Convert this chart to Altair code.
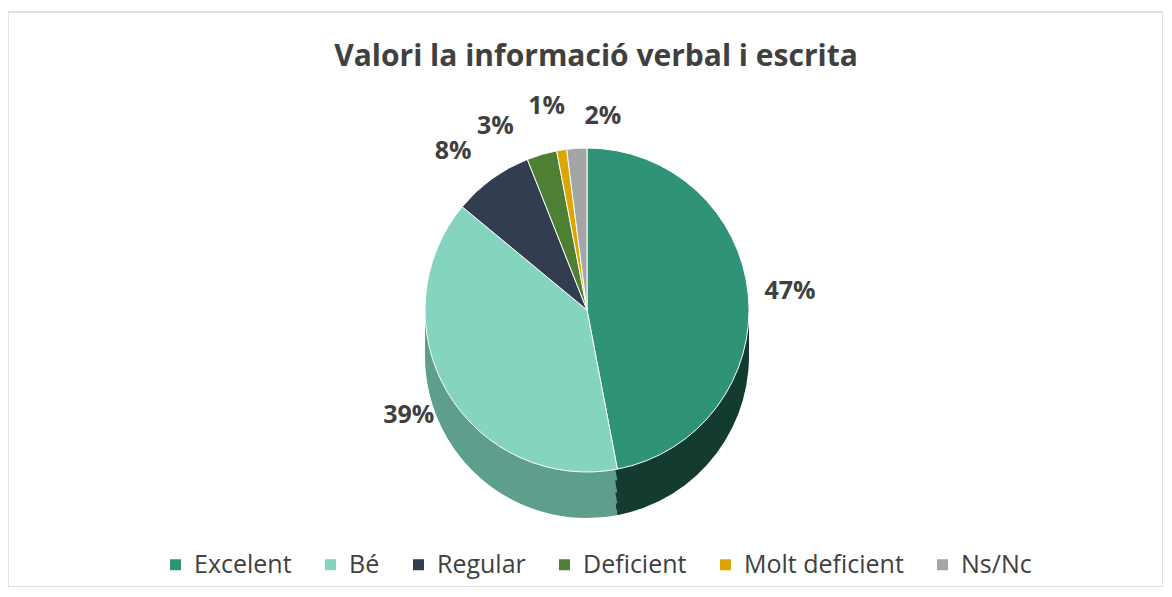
import altair as alt
import pandas as pd

categories = ["Excelent", "Bé", "Regular", "Deficient", "Molt deficient", "Ns/Nc"]
values = [47, 39, 8, 3, 1, 2]
top_colors = ["#2E9377", "#84D4BF", "#323D4F", "#4E7F33", "#DBA600", "#A5A5A5"]
side_colors = ["#143B30", "#5E9E8D", "#1E2530", "#2F4C1F", "#8A6900", "#6E6E6E"]
title_text = "Valori la informació verbal i escrita"

df = pd.DataFrame({
    "cat": categories,
    "value": values,
    "idx": list(range(len(categories))),
    "side": side_colors,
})

W, H = 1155, 575
CX, CY = 579, 298
R = 162
DEPTH = 46
FONT = "Open Sans"

base = alt.Chart(df)

layers = []
# side (depth) of the pie
for d in [DEPTH, DEPTH * 3 // 4, DEPTH // 2, DEPTH // 4]:
    layers.append(
        base.mark_arc(outerRadius=R).encode(
            theta=alt.Theta("value:Q", stack=True),
            order=alt.Order("idx:Q"),
            color=alt.Color("side:N", scale=None, legend=None),
            x=alt.value(CX),
            y=alt.value(CY + d),
        )
    )

# top face
layers.append(
    base.mark_arc(outerRadius=R, stroke="#ffffff", strokeWidth=1).encode(
        theta=alt.Theta("value:Q", stack=True),
        order=alt.Order("idx:Q"),
        color=alt.Color(
            "cat:N",
            scale=alt.Scale(domain=categories, range=top_colors),
            legend=alt.Legend(
                title=None,
                orient="none",
                direction="horizontal",
                legendX=155,
                legendY=540,
                symbolType="square",
                symbolSize=121,
                symbolStrokeWidth=0,
                labelFont=FONT,
                labelFontSize=25,
                labelColor="#404040",
                labelOffset=6,
                columnPadding=26,
                labelLimit=400,
            ),
        ),
        x=alt.value(CX),
        y=alt.value(CY),
    )
)

def label_layer(cats, radius, dx=0, dy=0):
    return (
        base.transform_window(cum="sum(value)", sort=[alt.SortField("idx")])
        .transform_calculate(mid="datum.cum - datum.value / 2",
                             label="datum.value + '%'")
        .transform_filter(alt.FieldOneOfPredicate(field="cat", oneOf=cats))
        .mark_text(radius=radius, font=FONT, fontSize=25, fontWeight="bold",
                   color="#404040", dx=dx, dy=dy)
        .encode(
            theta=alt.Theta("mid:Q", stack=None,
                            scale=alt.Scale(domain=[0, 100], range=[0, 6.283185307])),
            text="label:N",
            x=alt.value(CX),
            y=alt.value(CY),
        )
    )

layers.append(label_layer(["Excelent"], R + 42))
layers.append(label_layer(["Bé"], R + 45))
layers.append(label_layer(["Regular"], R + 35, dx=-18))
layers.append(label_layer(["Deficient"], R + 30, dx=-38))
layers.append(label_layer(["Molt deficient"], R + 45, dx=-8))
layers.append(label_layer(["Ns/Nc"], R + 32, dx=28))

title_layer = alt.Chart(pd.DataFrame({"t": [title_text]})).mark_text(
    font=FONT, fontSize=30, fontWeight="bold", color="#404040"
).encode(text="t:N", x=alt.value(588), y=alt.value(45))
layers.append(title_layer)

chart = (
    alt.layer(*layers)
    .resolve_scale(color="independent")
    .properties(
        width=W,
        height=H,
        padding={"left": 0, "top": 4, "right": 0, "bottom": 0},
        autosize=alt.AutoSizeParams(type="none"),
        background="#ffffff",
    )
    .configure_view(stroke="#D9D9D9", strokeWidth=1.5)
)

chart.save("out.html", embed_options={"renderer": "svg", "actions": False})
